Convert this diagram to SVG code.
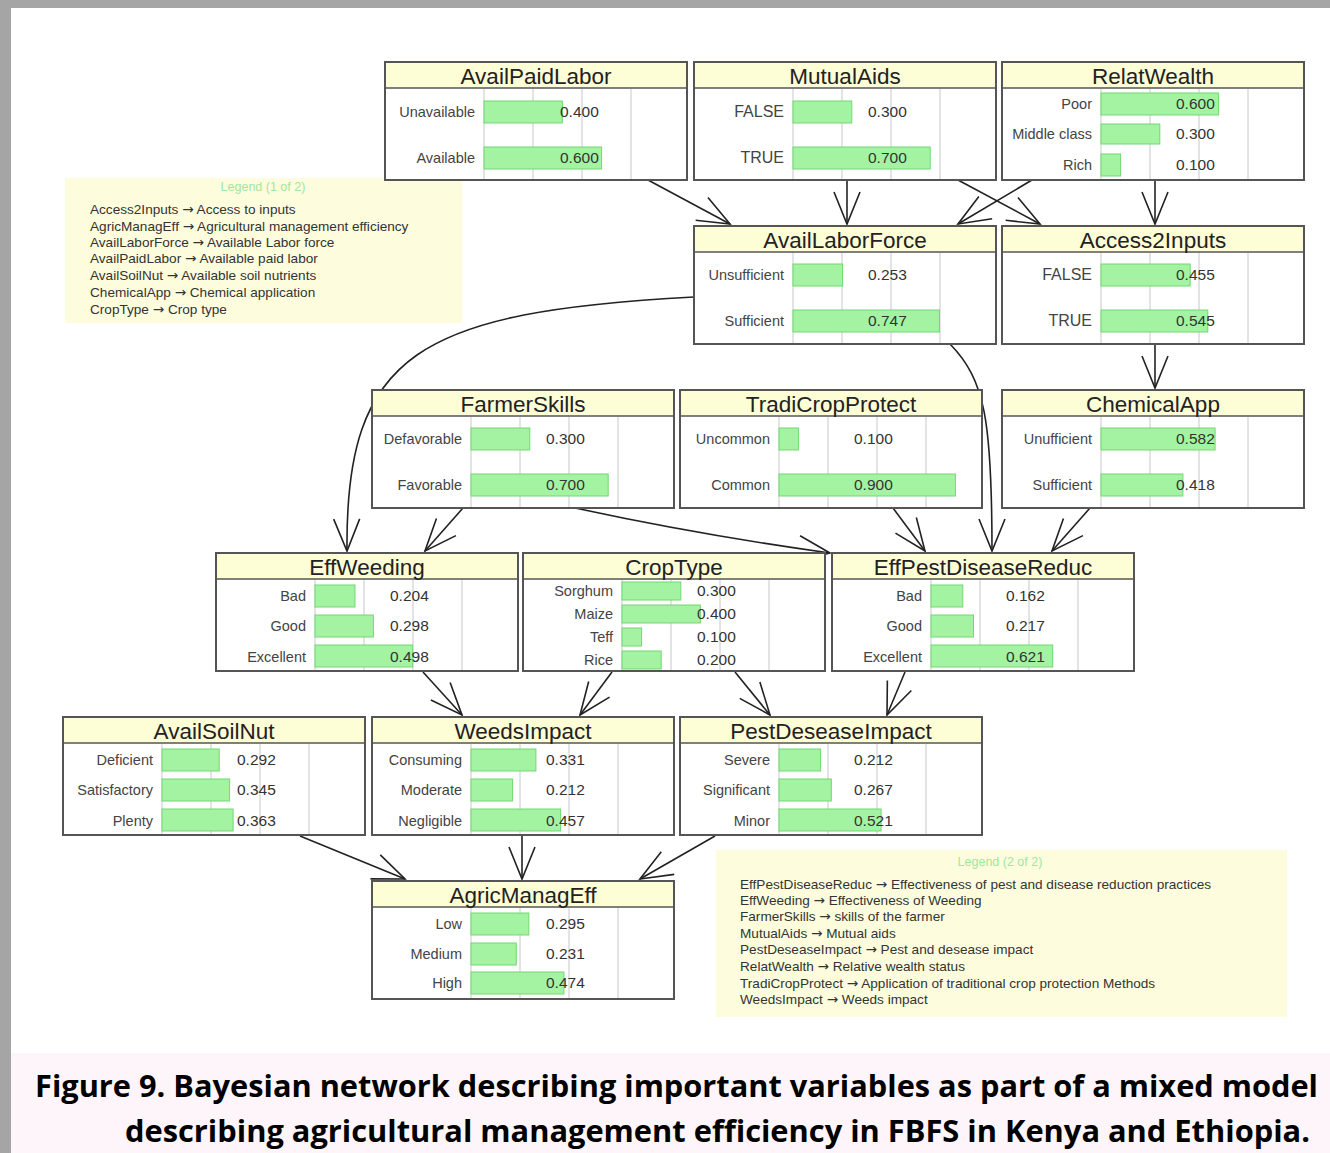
<svg xmlns="http://www.w3.org/2000/svg" width="1330" height="1153" viewBox="0 0 1330 1153">
  <style>
    .frame { fill: #ffffff; stroke: #555555; stroke-width: 2; }
    .head { fill: #fdfdd6; }
    .sep { stroke: #555555; stroke-width: 1.5; }
    .grid { stroke: #c8c8c8; stroke-width: 1; }
    .bar { fill: #a3f3a3; stroke: #72d872; stroke-width: 1; }
    .title { font-family: "Liberation Sans", Arial, sans-serif; font-size: 22.5px; fill: #222222; text-anchor: middle; }
    .state { font-family: "Liberation Sans", Arial, sans-serif; font-size: 14.5px; fill: #444444; text-anchor: end; }
    .state.caps { font-size: 16px; }
    .val { font-family: "Liberation Sans", Arial, sans-serif; font-size: 15.5px; fill: #333333; }
    .edge { fill: none; stroke: #222222; stroke-width: 1.6; }
    .legend { fill: #fdfddd; }
    .ltitle { font-family: "Liberation Sans", Arial, sans-serif; font-size: 12.5px; fill: #9fe79f; text-anchor: middle; }
    .ltext { font-family: "Liberation Sans", Arial, sans-serif; font-size: 13.6px; fill: #333333; }
    .arr { font-family: "DejaVu Sans", sans-serif; }
    .cap { font-family: "Open Sans", "Noto Sans", sans-serif; font-size: 31px; font-weight: bold; fill: #000000; }
  </style>
  <defs>
    <marker id="vee" markerUnits="userSpaceOnUse" markerWidth="40" markerHeight="40" viewBox="-36 -18 40 36" refX="0" refY="0" orient="auto">
      <path d="M -32 -13 L 0 0 L -32 13" fill="none" stroke="#222222" stroke-width="1.6"/>
    </marker>
  </defs>

  <!-- page background, frame and caption band -->
  <rect x="0" y="0" width="1330" height="1153" fill="#ffffff"/>
  <rect x="0" y="0" width="1330" height="8" fill="#a5a5a5"/>
  <rect x="0" y="0" width="11" height="1153" fill="#a5a5a5"/>
  <rect x="11" y="1053" width="1319" height="100" fill="#fdf5fa"/>

  <!-- legends -->
  <g id="legend1">
    <rect class="legend" x="65" y="178" width="397" height="145"/>
    <text class="ltitle" x="263" y="191">Legend (1 of 2)</text>
    <text class="ltext" x="90" y="214">Access2Inputs <tspan class="arr">→</tspan> Access to inputs</text>
    <text class="ltext" x="90" y="231">AgricManagEff <tspan class="arr">→</tspan> Agricultural management efficiency</text>
    <text class="ltext" x="90" y="247">AvailLaborForce <tspan class="arr">→</tspan> Available Labor force</text>
    <text class="ltext" x="90" y="263">AvailPaidLabor <tspan class="arr">→</tspan> Available paid labor</text>
    <text class="ltext" x="90" y="280">AvailSoilNut <tspan class="arr">→</tspan> Available soil nutrients</text>
    <text class="ltext" x="90" y="297">ChemicalApp <tspan class="arr">→</tspan> Chemical application</text>
    <text class="ltext" x="90" y="314">CropType <tspan class="arr">→</tspan> Crop type</text>
  </g>
  <g id="legend2">
    <rect class="legend" x="716" y="850" width="571" height="167"/>
    <text class="ltitle" x="1000" y="866">Legend (2 of 2)</text>
    <text class="ltext" x="740" y="889">EffPestDiseaseReduc <tspan class="arr">→</tspan> Effectiveness of pest and disease reduction practices</text>
    <text class="ltext" x="740" y="905">EffWeeding <tspan class="arr">→</tspan> Effectiveness of Weeding</text>
    <text class="ltext" x="740" y="921">FarmerSkills <tspan class="arr">→</tspan> skills of the farmer</text>
    <text class="ltext" x="740" y="938">MutualAids <tspan class="arr">→</tspan> Mutual aids</text>
    <text class="ltext" x="740" y="954">PestDeseaseImpact <tspan class="arr">→</tspan> Pest and desease impact</text>
    <text class="ltext" x="740" y="971">RelatWealth <tspan class="arr">→</tspan> Relative wealth status</text>
    <text class="ltext" x="740" y="988">TradiCropProtect <tspan class="arr">→</tspan> Application of traditional crop protection Methods</text>
    <text class="ltext" x="740" y="1004">WeedsImpact <tspan class="arr">→</tspan> Weeds impact</text>
  </g>

  <!-- connectors -->
  <g id="edges">
    <path class="edge" marker-end="url(#vee)" d="M 648 180 L 730 224"/>
    <path class="edge" marker-end="url(#vee)" d="M 847 180 L 847 224"/>
    <path class="edge" marker-end="url(#vee)" d="M 958 180 L 1040 224"/>
    <path class="edge" marker-end="url(#vee)" d="M 1032 180 L 958 224"/>
    <path class="edge" marker-end="url(#vee)" d="M 1155 180 L 1155 224"/>
    <path class="edge" marker-end="url(#vee)" d="M 694 297 C 420 312 345 352 347 551"/>
    <path class="edge" marker-end="url(#vee)" d="M 950 344 C 985 380 992 420 992 551"/>
    <path class="edge" marker-end="url(#vee)" d="M 1155 344 L 1155 388"/>
    <path class="edge" marker-end="url(#vee)" d="M 463 508 L 425 551"/>
    <path class="edge" marker-end="url(#vee)" d="M 575 508 Q 700 535 830 553"/>
    <path class="edge" marker-end="url(#vee)" d="M 893 508 L 925 551"/>
    <path class="edge" marker-end="url(#vee)" d="M 1090 508 L 1052 551"/>
    <path class="edge" marker-end="url(#vee)" d="M 423 672 L 462 715"/>
    <path class="edge" marker-end="url(#vee)" d="M 612 672 L 580 715"/>
    <path class="edge" marker-end="url(#vee)" d="M 735 672 L 770 715"/>
    <path class="edge" marker-end="url(#vee)" d="M 905 672 L 887 715"/>
    <path class="edge" marker-end="url(#vee)" d="M 300 836 L 405 879"/>
    <path class="edge" marker-end="url(#vee)" d="M 522 836 L 522 879"/>
    <path class="edge" marker-end="url(#vee)" d="M 715 836 L 640 879"/>
  </g>

  <!-- nodes: frame 302x118, title band 26, bars scaled 196 px per unit from x=99 -->
  <g id="AvailPaidLabor" transform="translate(385,62)">
    <rect class="frame" width="302" height="118"/>
    <rect class="head" x="1" y="1" width="300" height="25"/>
    <line class="sep" x1="0" y1="26" x2="302" y2="26"/>
    <line class="grid" x1="99" y1="27" x2="99" y2="117"/><line class="grid" x1="148" y1="27" x2="148" y2="117"/><line class="grid" x1="197" y1="27" x2="197" y2="117"/><line class="grid" x1="246" y1="27" x2="246" y2="117"/>
    <text class="title" x="151" y="22">AvailPaidLabor</text>
    <rect class="bar" x="99" y="39" width="78.4" height="22"/>
    <rect class="bar" x="99" y="85" width="117.6" height="22"/>
    <text class="state" x="90" y="55">Unavailable</text>
    <text class="state" x="90" y="101">Available</text>
    <text class="val" x="175" y="55">0.400</text>
    <text class="val" x="175" y="101">0.600</text>
  </g>

  <g id="MutualAids" transform="translate(694,62)">
    <rect class="frame" width="302" height="118"/>
    <rect class="head" x="1" y="1" width="300" height="25"/>
    <line class="sep" x1="0" y1="26" x2="302" y2="26"/>
    <line class="grid" x1="99" y1="27" x2="99" y2="117"/><line class="grid" x1="148" y1="27" x2="148" y2="117"/><line class="grid" x1="197" y1="27" x2="197" y2="117"/><line class="grid" x1="246" y1="27" x2="246" y2="117"/>
    <text class="title" x="151" y="22">MutualAids</text>
    <rect class="bar" x="99" y="39" width="58.8" height="22"/>
    <rect class="bar" x="99" y="85" width="137.2" height="22"/>
    <text class="state caps" x="90" y="55">FALSE</text>
    <text class="state caps" x="90" y="101">TRUE</text>
    <text class="val" x="174" y="55">0.300</text>
    <text class="val" x="174" y="101">0.700</text>
  </g>

  <g id="RelatWealth" transform="translate(1002,62)">
    <rect class="frame" width="302" height="118"/>
    <rect class="head" x="1" y="1" width="300" height="25"/>
    <line class="sep" x1="0" y1="26" x2="302" y2="26"/>
    <line class="grid" x1="99" y1="27" x2="99" y2="117"/><line class="grid" x1="148" y1="27" x2="148" y2="117"/><line class="grid" x1="197" y1="27" x2="197" y2="117"/><line class="grid" x1="246" y1="27" x2="246" y2="117"/>
    <text class="title" x="151" y="22">RelatWealth</text>
    <rect class="bar" x="99" y="31" width="117.6" height="22"/>
    <rect class="bar" x="99" y="62" width="58.8" height="20"/>
    <rect class="bar" x="99" y="92" width="19.6" height="22"/>
    <text class="state" x="90" y="47">Poor</text>
    <text class="state" x="90" y="77">Middle class</text>
    <text class="state" x="90" y="108">Rich</text>
    <text class="val" x="174" y="47">0.600</text>
    <text class="val" x="174" y="77">0.300</text>
    <text class="val" x="174" y="108">0.100</text>
  </g>

  <g id="AvailLaborForce" transform="translate(694,226)">
    <rect class="frame" width="302" height="118"/>
    <rect class="head" x="1" y="1" width="300" height="25"/>
    <line class="sep" x1="0" y1="26" x2="302" y2="26"/>
    <line class="grid" x1="99" y1="27" x2="99" y2="117"/><line class="grid" x1="148" y1="27" x2="148" y2="117"/><line class="grid" x1="197" y1="27" x2="197" y2="117"/><line class="grid" x1="246" y1="27" x2="246" y2="117"/>
    <text class="title" x="151" y="22">AvailLaborForce</text>
    <rect class="bar" x="99" y="38" width="49.6" height="22"/>
    <rect class="bar" x="99" y="84" width="146.4" height="22"/>
    <text class="state" x="90" y="54">Unsufficient</text>
    <text class="state" x="90" y="100">Sufficient</text>
    <text class="val" x="174" y="54">0.253</text>
    <text class="val" x="174" y="100">0.747</text>
  </g>

  <g id="Access2Inputs" transform="translate(1002,226)">
    <rect class="frame" width="302" height="118"/>
    <rect class="head" x="1" y="1" width="300" height="25"/>
    <line class="sep" x1="0" y1="26" x2="302" y2="26"/>
    <line class="grid" x1="99" y1="27" x2="99" y2="117"/><line class="grid" x1="148" y1="27" x2="148" y2="117"/><line class="grid" x1="197" y1="27" x2="197" y2="117"/><line class="grid" x1="246" y1="27" x2="246" y2="117"/>
    <text class="title" x="151" y="22">Access2Inputs</text>
    <rect class="bar" x="99" y="38" width="89.2" height="22"/>
    <rect class="bar" x="99" y="84" width="106.8" height="22"/>
    <text class="state caps" x="90" y="54">FALSE</text>
    <text class="state caps" x="90" y="100">TRUE</text>
    <text class="val" x="174" y="54">0.455</text>
    <text class="val" x="174" y="100">0.545</text>
  </g>

  <g id="FarmerSkills" transform="translate(372,390)">
    <rect class="frame" width="302" height="118"/>
    <rect class="head" x="1" y="1" width="300" height="25"/>
    <line class="sep" x1="0" y1="26" x2="302" y2="26"/>
    <line class="grid" x1="99" y1="27" x2="99" y2="117"/><line class="grid" x1="148" y1="27" x2="148" y2="117"/><line class="grid" x1="197" y1="27" x2="197" y2="117"/><line class="grid" x1="246" y1="27" x2="246" y2="117"/>
    <text class="title" x="151" y="22">FarmerSkills</text>
    <rect class="bar" x="99" y="38" width="58.8" height="22"/>
    <rect class="bar" x="99" y="84" width="137.2" height="22"/>
    <text class="state" x="90" y="54">Defavorable</text>
    <text class="state" x="90" y="100">Favorable</text>
    <text class="val" x="174" y="54">0.300</text>
    <text class="val" x="174" y="100">0.700</text>
  </g>

  <g id="TradiCropProtect" transform="translate(680,390)">
    <rect class="frame" width="302" height="118"/>
    <rect class="head" x="1" y="1" width="300" height="25"/>
    <line class="sep" x1="0" y1="26" x2="302" y2="26"/>
    <line class="grid" x1="99" y1="27" x2="99" y2="117"/><line class="grid" x1="148" y1="27" x2="148" y2="117"/><line class="grid" x1="197" y1="27" x2="197" y2="117"/><line class="grid" x1="246" y1="27" x2="246" y2="117"/>
    <text class="title" x="151" y="22">TradiCropProtect</text>
    <rect class="bar" x="99" y="38" width="19.6" height="22"/>
    <rect class="bar" x="99" y="84" width="176.4" height="22"/>
    <text class="state" x="90" y="54">Uncommon</text>
    <text class="state" x="90" y="100">Common</text>
    <text class="val" x="174" y="54">0.100</text>
    <text class="val" x="174" y="100">0.900</text>
  </g>

  <g id="ChemicalApp" transform="translate(1002,390)">
    <rect class="frame" width="302" height="118"/>
    <rect class="head" x="1" y="1" width="300" height="25"/>
    <line class="sep" x1="0" y1="26" x2="302" y2="26"/>
    <line class="grid" x1="99" y1="27" x2="99" y2="117"/><line class="grid" x1="148" y1="27" x2="148" y2="117"/><line class="grid" x1="197" y1="27" x2="197" y2="117"/><line class="grid" x1="246" y1="27" x2="246" y2="117"/>
    <text class="title" x="151" y="22">ChemicalApp</text>
    <rect class="bar" x="99" y="38" width="114.1" height="22"/>
    <rect class="bar" x="99" y="84" width="81.9" height="22"/>
    <text class="state" x="90" y="54">Unufficient</text>
    <text class="state" x="90" y="100">Sufficient</text>
    <text class="val" x="174" y="54">0.582</text>
    <text class="val" x="174" y="100">0.418</text>
  </g>

  <g id="EffWeeding" transform="translate(216,553)">
    <rect class="frame" width="302" height="118"/>
    <rect class="head" x="1" y="1" width="300" height="25"/>
    <line class="sep" x1="0" y1="26" x2="302" y2="26"/>
    <line class="grid" x1="99" y1="27" x2="99" y2="117"/><line class="grid" x1="148" y1="27" x2="148" y2="117"/><line class="grid" x1="197" y1="27" x2="197" y2="117"/><line class="grid" x1="246" y1="27" x2="246" y2="117"/>
    <text class="title" x="151" y="22">EffWeeding</text>
    <rect class="bar" x="99" y="32" width="40" height="22"/>
    <rect class="bar" x="99" y="62" width="58.4" height="22"/>
    <rect class="bar" x="99" y="92" width="97.6" height="22"/>
    <text class="state" x="90" y="48">Bad</text>
    <text class="state" x="90" y="78">Good</text>
    <text class="state" x="90" y="109">Excellent</text>
    <text class="val" x="174" y="48">0.204</text>
    <text class="val" x="174" y="78">0.298</text>
    <text class="val" x="174" y="109">0.498</text>
  </g>

  <g id="CropType" transform="translate(523,553)">
    <rect class="frame" width="302" height="118"/>
    <rect class="head" x="1" y="1" width="300" height="25"/>
    <line class="sep" x1="0" y1="26" x2="302" y2="26"/>
    <line class="grid" x1="99" y1="27" x2="99" y2="117"/><line class="grid" x1="148" y1="27" x2="148" y2="117"/><line class="grid" x1="197" y1="27" x2="197" y2="117"/><line class="grid" x1="246" y1="27" x2="246" y2="117"/>
    <text class="title" x="151" y="22">CropType</text>
    <rect class="bar" x="99" y="29" width="58.8" height="18"/>
    <rect class="bar" x="99" y="52" width="78.4" height="18"/>
    <rect class="bar" x="99" y="75" width="19.6" height="18"/>
    <rect class="bar" x="99" y="98" width="39.2" height="18"/>
    <text class="state" x="90" y="43">Sorghum</text>
    <text class="state" x="90" y="66">Maize</text>
    <text class="state" x="90" y="89">Teff</text>
    <text class="state" x="90" y="112">Rice</text>
    <text class="val" x="174" y="43">0.300</text>
    <text class="val" x="174" y="66">0.400</text>
    <text class="val" x="174" y="89">0.100</text>
    <text class="val" x="174" y="112">0.200</text>
  </g>

  <g id="EffPestDiseaseReduc" transform="translate(832,553)">
    <rect class="frame" width="302" height="118"/>
    <rect class="head" x="1" y="1" width="300" height="25"/>
    <line class="sep" x1="0" y1="26" x2="302" y2="26"/>
    <line class="grid" x1="99" y1="27" x2="99" y2="117"/><line class="grid" x1="148" y1="27" x2="148" y2="117"/><line class="grid" x1="197" y1="27" x2="197" y2="117"/><line class="grid" x1="246" y1="27" x2="246" y2="117"/>
    <text class="title" x="151" y="22">EffPestDiseaseReduc</text>
    <rect class="bar" x="99" y="32" width="31.8" height="22"/>
    <rect class="bar" x="99" y="62" width="42.5" height="22"/>
    <rect class="bar" x="99" y="92" width="121.7" height="22"/>
    <text class="state" x="90" y="48">Bad</text>
    <text class="state" x="90" y="78">Good</text>
    <text class="state" x="90" y="109">Excellent</text>
    <text class="val" x="174" y="48">0.162</text>
    <text class="val" x="174" y="78">0.217</text>
    <text class="val" x="174" y="109">0.621</text>
  </g>

  <g id="AvailSoilNut" transform="translate(63,717)">
    <rect class="frame" width="302" height="118"/>
    <rect class="head" x="1" y="1" width="300" height="25"/>
    <line class="sep" x1="0" y1="26" x2="302" y2="26"/>
    <line class="grid" x1="99" y1="27" x2="99" y2="117"/><line class="grid" x1="148" y1="27" x2="148" y2="117"/><line class="grid" x1="197" y1="27" x2="197" y2="117"/><line class="grid" x1="246" y1="27" x2="246" y2="117"/>
    <text class="title" x="151" y="22">AvailSoilNut</text>
    <rect class="bar" x="99" y="32" width="57.2" height="22"/>
    <rect class="bar" x="99" y="62" width="67.6" height="22"/>
    <rect class="bar" x="99" y="92" width="71.1" height="22"/>
    <text class="state" x="90" y="48">Deficient</text>
    <text class="state" x="90" y="78">Satisfactory</text>
    <text class="state" x="90" y="109">Plenty</text>
    <text class="val" x="174" y="48">0.292</text>
    <text class="val" x="174" y="78">0.345</text>
    <text class="val" x="174" y="109">0.363</text>
  </g>

  <g id="WeedsImpact" transform="translate(372,717)">
    <rect class="frame" width="302" height="118"/>
    <rect class="head" x="1" y="1" width="300" height="25"/>
    <line class="sep" x1="0" y1="26" x2="302" y2="26"/>
    <line class="grid" x1="99" y1="27" x2="99" y2="117"/><line class="grid" x1="148" y1="27" x2="148" y2="117"/><line class="grid" x1="197" y1="27" x2="197" y2="117"/><line class="grid" x1="246" y1="27" x2="246" y2="117"/>
    <text class="title" x="151" y="22">WeedsImpact</text>
    <rect class="bar" x="99" y="32" width="64.9" height="22"/>
    <rect class="bar" x="99" y="62" width="41.6" height="22"/>
    <rect class="bar" x="99" y="92" width="89.6" height="22"/>
    <text class="state" x="90" y="48">Consuming</text>
    <text class="state" x="90" y="78">Moderate</text>
    <text class="state" x="90" y="109">Negligible</text>
    <text class="val" x="174" y="48">0.331</text>
    <text class="val" x="174" y="78">0.212</text>
    <text class="val" x="174" y="109">0.457</text>
  </g>

  <g id="PestDeseaseImpact" transform="translate(680,717)">
    <rect class="frame" width="302" height="118"/>
    <rect class="head" x="1" y="1" width="300" height="25"/>
    <line class="sep" x1="0" y1="26" x2="302" y2="26"/>
    <line class="grid" x1="99" y1="27" x2="99" y2="117"/><line class="grid" x1="148" y1="27" x2="148" y2="117"/><line class="grid" x1="197" y1="27" x2="197" y2="117"/><line class="grid" x1="246" y1="27" x2="246" y2="117"/>
    <text class="title" x="151" y="22">PestDeseaseImpact</text>
    <rect class="bar" x="99" y="32" width="41.6" height="22"/>
    <rect class="bar" x="99" y="62" width="52.3" height="22"/>
    <rect class="bar" x="99" y="92" width="102.1" height="22"/>
    <text class="state" x="90" y="48">Severe</text>
    <text class="state" x="90" y="78">Significant</text>
    <text class="state" x="90" y="109">Minor</text>
    <text class="val" x="174" y="48">0.212</text>
    <text class="val" x="174" y="78">0.267</text>
    <text class="val" x="174" y="109">0.521</text>
  </g>

  <g id="AgricManagEff" transform="translate(372,881)">
    <rect class="frame" width="302" height="118"/>
    <rect class="head" x="1" y="1" width="300" height="25"/>
    <line class="sep" x1="0" y1="26" x2="302" y2="26"/>
    <line class="grid" x1="99" y1="27" x2="99" y2="117"/><line class="grid" x1="148" y1="27" x2="148" y2="117"/><line class="grid" x1="197" y1="27" x2="197" y2="117"/><line class="grid" x1="246" y1="27" x2="246" y2="117"/>
    <text class="title" x="151" y="22">AgricManagEff</text>
    <rect class="bar" x="99" y="32" width="57.8" height="22"/>
    <rect class="bar" x="99" y="62" width="45.3" height="22"/>
    <rect class="bar" x="99" y="91" width="92.9" height="22"/>
    <text class="state" x="90" y="48">Low</text>
    <text class="state" x="90" y="78">Medium</text>
    <text class="state" x="90" y="107">High</text>
    <text class="val" x="174" y="48">0.295</text>
    <text class="val" x="174" y="78">0.231</text>
    <text class="val" x="174" y="107">0.474</text>
  </g>

  <!-- caption -->
  <text class="cap" x="35" y="1097" textLength="1283" lengthAdjust="spacingAndGlyphs">Figure 9. Bayesian network describing important variables as part of a mixed model</text>
  <text class="cap" x="125" y="1142" textLength="1185" lengthAdjust="spacingAndGlyphs">describing agricultural management efficiency in FBFS in Kenya and Ethiopia.</text>
</svg>
